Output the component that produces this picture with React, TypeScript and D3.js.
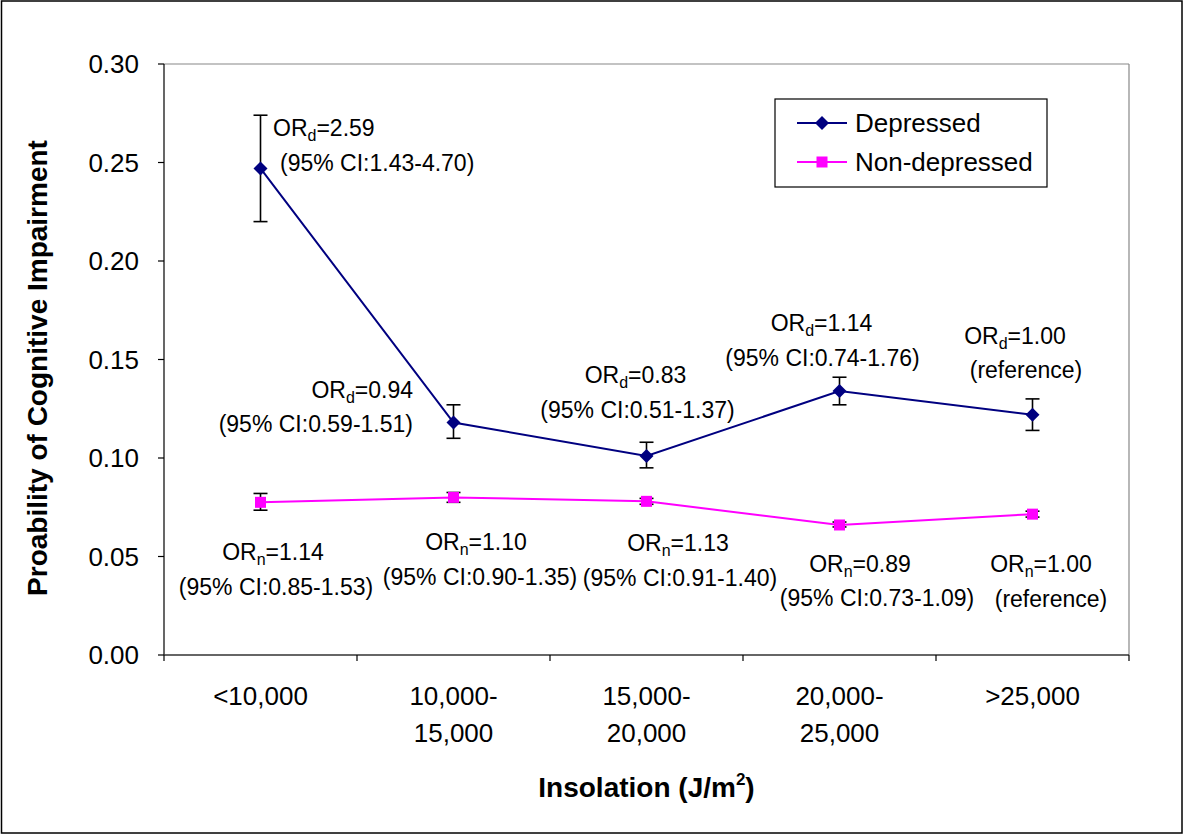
import React from "react";
import * as d3 from "d3";

// ---- data ----
const categories: string[][] = [
  ["<10,000"],
  ["10,000-", "15,000"],
  ["15,000-", "20,000"],
  ["20,000-", "25,000"],
  [">25,000"],
];
const depressed = [0.247, 0.118, 0.101, 0.134, 0.122];
const depressedLow = [0.22, 0.11, 0.095, 0.127, 0.114];
const depressedHigh = [0.274, 0.127, 0.108, 0.141, 0.13];
const nonDepressed = [0.0775, 0.08, 0.078, 0.066, 0.0715];
const nonDepressedLow = [0.0735, 0.0775, 0.0765, 0.065, 0.07];
const nonDepressedHigh = [0.082, 0.0825, 0.0795, 0.0675, 0.073];
const yTicks = [0, 0.05, 0.1, 0.15, 0.2, 0.25, 0.3];
const orD = ["2.59", "0.94", "0.83", "1.14", "1.00"];
const ciD = [
  "(95% CI:1.43-4.70)",
  "(95% CI:0.59-1.51)",
  "(95% CI:0.51-1.37)",
  "(95% CI:0.74-1.76)",
  "(reference)",
];
const orN = ["1.14", "1.10", "1.13", "0.89", "1.00"];
const ciN = [
  "(95% CI:0.85-1.53)",
  "(95% CI:0.90-1.35)",
  "(95% CI:0.91-1.40)",
  "(95% CI:0.73-1.09)",
  "(reference)",
];

// ---- layout ----
const W = 1183;
const H = 835;
const M = { left: 164, right: 1129, top: 64, bottom: 655 };
const FONT = "'Liberation Sans', Arial, Helvetica, sans-serif";

// annotation offsets relative to the data point (anchor, dx line1, dx line2, dy line1)
const labD = [
  { a: "start", dx1: 12.5, dx2: 19.5, dy: -32 },
  { a: "end", dx1: -40.5, dx2: -40.5, dy: -25 },
  { a: "middle", dx1: -11, dx2: -9, dy: -73 },
  { a: "middle", dx1: -18, dx2: -17, dy: -60 },
  { a: "middle", dx1: -17.5, dx2: -6.5, dy: -71 },
];
const labN = [
  { a: "middle", dx1: 12.5, dx2: 15.5, dy: 58 },
  { a: "middle", dx1: 22.5, dx2: 26.5, dy: 53 },
  { a: "middle", dx1: 31.5, dx2: 33.5, dy: 50 },
  { a: "middle", dx1: 20.5, dx2: 37.5, dy: 47 },
  { a: "middle", dx1: 8.5, dx2: 18.5, dy: 58 },
];
const LINE_GAP = 34.5;

const NAVY = "#000080";
const MAGENTA = "#FF00FF";

function ORText(props: { x: number; y: number; anchor: string; sub: string; value: string }) {
  const { x, y, anchor, sub, value } = props;
  return (
    <text x={x} y={y} textAnchor={anchor as any} fontSize={23} fontFamily={FONT} fill="#000">
      OR
      <tspan fontSize={16} dy={5}>
        {sub}
      </tspan>
      <tspan dy={-5}>={value}</tspan>
    </text>
  );
}

export default function App() {
  const idx = categories.map((_, i) => String(i));
  const xBand = d3.scaleBand<string>().domain(idx).range([M.left, M.right]).padding(0);
  const cx = (i: number) => (xBand(String(i)) as number) + xBand.bandwidth() / 2;
  const y = d3.scaleLinear().domain([0, 0.3]).range([M.bottom, M.top]);

  const line = d3
    .line<number>()
    .x((_, i) => cx(i))
    .y((v) => y(v));

  const boundaries = d3.range(categories.length + 1).map((i) => M.left + i * xBand.bandwidth());

  const diamond = (x: number, yy: number, r: number) =>
    `M${x},${yy - r}L${x + r},${yy}L${x},${yy + r}L${x - r},${yy}Z`;

  const errBar = (i: number, lo: number, hi: number, key: string) => {
    const x = cx(i);
    const c = 7;
    return (
      <g key={key} stroke="#000" strokeWidth={1.6} fill="none">
        <line x1={x} x2={x} y1={y(lo)} y2={y(hi)} />
        <line x1={x - c} x2={x + c} y1={y(hi)} y2={y(hi)} />
        <line x1={x - c} x2={x + c} y1={y(lo)} y2={y(lo)} />
      </g>
    );
  };

  return (
    <div style={{ position: "absolute", left: 0, top: 0 }}>
      <svg width={W} height={H} viewBox={`0 0 ${W} ${H}`} style={{ display: "block" }}>
        <rect x={0} y={0} width={W} height={H} fill="#fff" />
        <rect x={1.5} y={1} width={1180.5} height={832} fill="none" stroke="#000" strokeWidth={1.5} />

        {/* plot frame */}
        <line x1={M.left} x2={M.right} y1={M.top} y2={M.top} stroke="#888" strokeWidth={1.2} />
        <line x1={M.right} x2={M.right} y1={M.top} y2={M.bottom} stroke="#888" strokeWidth={1.2} />
        <line x1={M.left} x2={M.left} y1={M.top} y2={M.bottom} stroke="#000" strokeWidth={1.2} />
        <line x1={M.left} x2={M.right} y1={M.bottom} y2={M.bottom} stroke="#333" strokeWidth={1.5} />

        {/* y ticks */}
        {yTicks.map((t) => (
          <g key={"yt" + t}>
            <line x1={M.left - 6} x2={M.left} y1={y(t)} y2={y(t)} stroke="#000" strokeWidth={1.2} />
            <text
              x={139}
              y={y(t) + 9.3}
              textAnchor="end"
              fontSize={26}
              fontFamily={FONT}
              fill="#000"
            >
              {d3.format(".2f")(t)}
            </text>
          </g>
        ))}

        {/* x ticks */}
        {boundaries.map((b, i) => (
          <line key={"xt" + i} x1={b} x2={b} y1={M.bottom} y2={M.bottom + 6} stroke="#000" strokeWidth={1.2} />
        ))}
        {categories.map((lines, i) => (
          <text key={"xl" + i} textAnchor="middle" fontSize={26} fontFamily={FONT} fill="#000">
            {lines.map((l, j) => (
              <tspan key={j} x={cx(i)} y={705 + j * 37}>
                {l}
              </tspan>
            ))}
          </text>
        ))}

        {/* axis titles */}
        <text
          x={cx(2)}
          y={797}
          textAnchor="middle"
          fontSize={28}
          fontWeight="bold"
          fontFamily={FONT}
          fill="#000"
        >
          Insolation (J/m
          <tspan fontSize={17} dy={-12}>
            2
          </tspan>
          <tspan dy={12}>)</tspan>
        </text>
        <text
          transform={`translate(47,368) rotate(-90)`}
          textAnchor="middle"
          fontSize={28}
          fontWeight="bold"
          fontFamily={FONT}
          fill="#000"
        >
          Proability of Cognitive Impairment
        </text>

        {/* lines */}
        <path d={line(nonDepressed) || ""} fill="none" stroke={MAGENTA} strokeWidth={2} />
        <path d={line(depressed) || ""} fill="none" stroke={NAVY} strokeWidth={2} />

        {/* error bars */}
        {depressed.map((_, i) => errBar(i, depressedLow[i], depressedHigh[i], "ed" + i))}
        {nonDepressed.map((_, i) => errBar(i, nonDepressedLow[i], nonDepressedHigh[i], "en" + i))}

        {/* markers */}
        {depressed.map((v, i) => (
          <path key={"md" + i} d={diamond(cx(i), y(v), 7)} fill={NAVY} />
        ))}
        {nonDepressed.map((v, i) => (
          <rect key={"mn" + i} x={cx(i) - 5.5} y={y(v) - 5.5} width={11} height={11} fill={MAGENTA} />
        ))}

        {/* annotations */}
        {depressed.map((v, i) => {
          const L = labD[i];
          const px = cx(i);
          const py = y(v) + L.dy;
          return (
            <g key={"ad" + i}>
              <ORText x={px + L.dx1} y={py} anchor={L.a} sub="d" value={orD[i]} />
              <text
                x={px + L.dx2}
                y={py + LINE_GAP}
                textAnchor={L.a as any}
                fontSize={23}
                fontFamily={FONT}
                fill="#000"
              >
                {ciD[i]}
              </text>
            </g>
          );
        })}
        {nonDepressed.map((v, i) => {
          const L = labN[i];
          const px = cx(i);
          const py = y(v) + L.dy;
          return (
            <g key={"an" + i}>
              <ORText x={px + L.dx1} y={py} anchor={L.a} sub="n" value={orN[i]} />
              <text
                x={px + L.dx2}
                y={py + LINE_GAP}
                textAnchor={L.a as any}
                fontSize={23}
                fontFamily={FONT}
                fill="#000"
              >
                {ciN[i]}
              </text>
            </g>
          );
        })}

        {/* legend */}
        <g>
          <rect x={775} y={99} width={272} height={88} fill="#fff" stroke="#000" strokeWidth={1.2} />
          <line x1={797} x2={847} y1={123} y2={123} stroke={NAVY} strokeWidth={2} />
          <path d={diamond(822, 123, 7)} fill={NAVY} />
          <text x={855} y={132} fontSize={26} fontFamily={FONT} fill="#000">
            Depressed
          </text>
          <line x1={797} x2={847} y1={162} y2={162} stroke={MAGENTA} strokeWidth={2} />
          <rect x={816.5} y={156.5} width={11} height={11} fill={MAGENTA} />
          <text x={855} y={171} fontSize={26} fontFamily={FONT} fill="#000">
            Non-depressed
          </text>
        </g>
      </svg>
    </div>
  );
}
